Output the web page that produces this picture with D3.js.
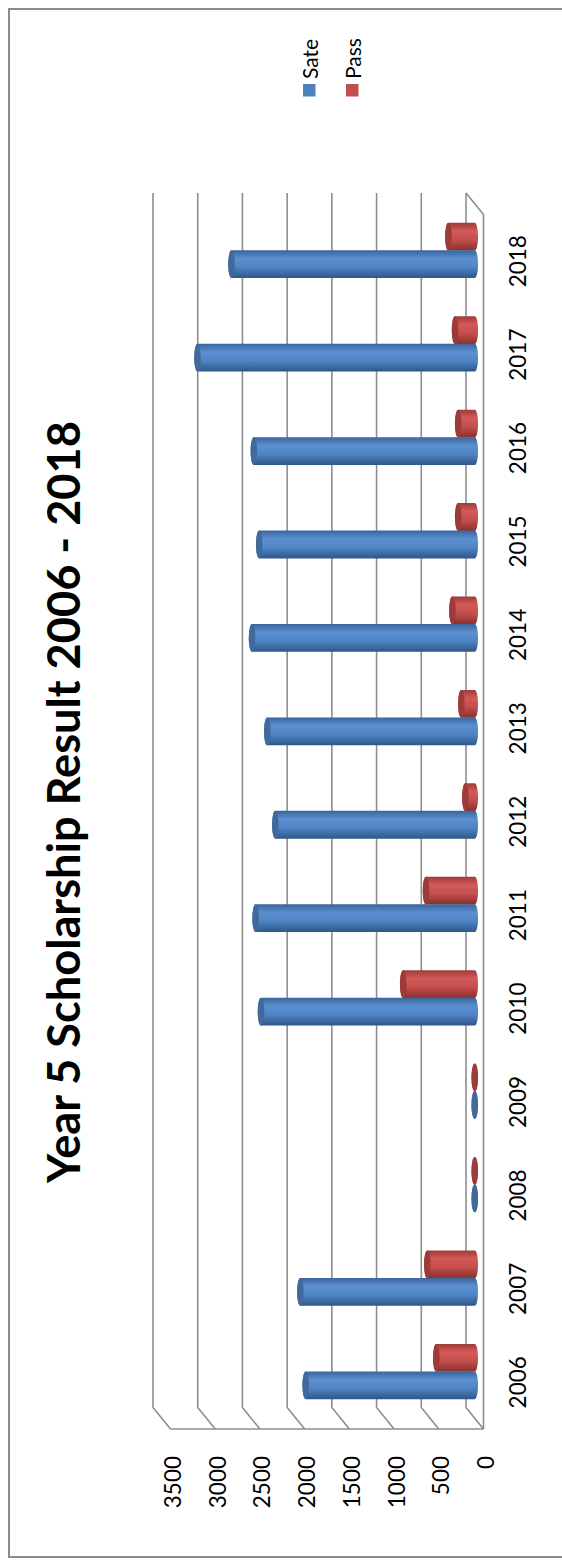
<!DOCTYPE html>
<html>
<head>
<meta charset="utf-8">
<script src="https://cdn.jsdelivr.net/npm/d3@7"></script>
<style>
  html, body { margin: 0; padding: 0; background: #ffffff; }
  svg { display: block; }
  text { font-family: Lato, "Open Sans", sans-serif; fill: #000; }
</style>
</head>
<body>
<svg id="chart" width="562" height="1565"></svg>
<script>
// ---- data ----
const years = ["2006","2007","2008","2009","2010","2011","2012","2013","2014","2015","2016","2017","2018"];
const sate  = [1890, 1950, 0, 0, 2390, 2450, 2230, 2320, 2490, 2410, 2470, 3100, 2720];
const pass  = [ 430,  530, 0, 0,  800,  545,  105,  150,  250,  185,  185,  220,  295];
const seriesNames = ["Sate", "Pass"];
const valueTicks = [0, 500, 1000, 1500, 2000, 2500, 3000, 3500];
const titleText = "Year 5 Scholarship Result 2006 - 2018";

// ---- layout ----
const W = 562, H = 1565;
const svg = d3.select("#chart");
const DX = 17.5, DY = 21.5;           // depth offset back -> front
const backTop = 193, backBottom = 1407.5;

const x = d3.scaleLinear().domain([0, 3500]).range([466, 153]);
const y = d3.scaleBand().domain(years.slice().reverse()).range([backTop, backBottom]);
const sub = d3.scaleBand().domain(["Pass", "Sate"]).range([-27.5, 27.5]);

const colors = {
  Sate: {base: "#4f81bd", stops: ["#3a659c", "#5b8fd0", "#5085c6", "#2f5788"], cap: "#41699c"},
  Pass: {base: "#c0504d", stops: ["#9e3c3a", "#d35a57", "#c44f4c", "#8a302e"], cap: "#9c3b39"}
};

// border
svg.append("rect")
  .attr("x", 9).attr("y", 9).attr("width", 560).attr("height", 1548)
  .attr("fill", "#ffffff").attr("stroke", "#8c8c8c").attr("stroke-width", 2);

// gradients
const defs = svg.append("defs");
seriesNames.forEach(s => {
  const g = defs.append("linearGradient").attr("id", "grad-" + s)
    .attr("x1", 0).attr("y1", 0).attr("x2", 0).attr("y2", 1);
  const st = colors[s].stops;
  [[0, st[0]], [0.3, st[1]], [0.6, st[2]], [1, st[3]]].forEach(([o, c]) =>
    g.append("stop").attr("offset", o).attr("stop-color", c));
});

// gridlines (back wall + floor diagonals)
const grid = svg.append("g").attr("fill", "none").attr("stroke", "#8e8e8e").attr("stroke-width", 1.6);
valueTicks.forEach(v => {
  grid.append("path").attr("d",
    `M${x(v)},${backTop} L${x(v)},${backBottom} L${x(v) + DX},${backBottom + DY}`);
});
// side wall front edge at zero
grid.append("path").attr("d",
  `M${x(0)},${backTop} L${x(0) + DX},${backTop + DY} L${x(0) + DX},${backBottom + DY}`);
// floor front edge
grid.append("path").attr("d",
  `M${x(3500) + DX},${backBottom + DY} L${x(0) + DX},${backBottom + DY}`);

// value axis labels
svg.append("g").selectAll("text").data(valueTicks).join("text")
  .attr("transform", d => `translate(${x(d) + DX + 2},1456) rotate(-90)`)
  .attr("text-anchor", "end")
  .attr("dominant-baseline", "central")
  .style("font-size", "22.5px")
  .text(d => d);

// category labels
svg.append("g").selectAll("text").data(years).join("text")
  .attr("transform", d => `translate(517,${y(d) + y.bandwidth() / 2 + DY}) rotate(-90)`)
  .attr("text-anchor", "middle")
  .attr("dominant-baseline", "central")
  .style("font-size", "22.5px")
  .text(d => d);

// cylinders
const rx = 3.3, ry = 13.9;
const x0 = x(0) + DX / 2;
function cylinder(g, xl, xr, yc, s) {
  g.append("path")
    .attr("d", `M${xr},${yc - ry} L${xl},${yc - ry} A${rx},${ry} 0 0 0 ${xl},${yc + ry} L${xr},${yc + ry} A${rx},${ry} 0 0 0 ${xr},${yc - ry} Z`)
    .attr("fill", `url(#grad-${s})`);
  g.append("ellipse")
    .attr("cx", xl).attr("cy", yc).attr("rx", rx).attr("ry", ry)
    .attr("fill", colors[s].cap);
}
const bars = svg.append("g");
years.forEach((yr, i) => {
  const yc = y(yr) + y.bandwidth() / 2 + DY / 2;
  const vals = {Sate: sate[i], Pass: pass[i]};
  ["Pass", "Sate"].forEach(s => {
    const xl = x0 - (x(0) - x(vals[s]));
    const c = yc + sub(s) + sub.bandwidth() / 2;
    cylinder(bars.append("g"), xl, x0, c, s);
  });
});

// legend
const legend = svg.append("g");
const legendPos = {Sate: 303, Pass: 346};
seriesNames.forEach(s => {
  legend.append("rect").attr("x", legendPos[s]).attr("y", 84).attr("width", 12.5).attr("height", 12.5)
    .attr("fill", colors[s].base);
  legend.append("text")
    .attr("transform", `translate(${legendPos[s] + 6},79) rotate(-90)`)
    .attr("text-anchor", "start")
    .attr("dominant-baseline", "central")
    .style("font-size", "21px")
    .text(s);
});

// title
const title = svg.append("text")
  .attr("transform", `translate(62,802) rotate(-90)`)
  .attr("text-anchor", "middle")
  .attr("dominant-baseline", "central")
  .style("font-weight", "bold")
  .style("font-size", "40px")
  .text(titleText);
const targetLen = 762;
const len = title.node().getComputedTextLength();
if (len > 0) title.style("font-size", (40 * targetLen / len).toFixed(2) + "px");
</script>
</body>
</html>
